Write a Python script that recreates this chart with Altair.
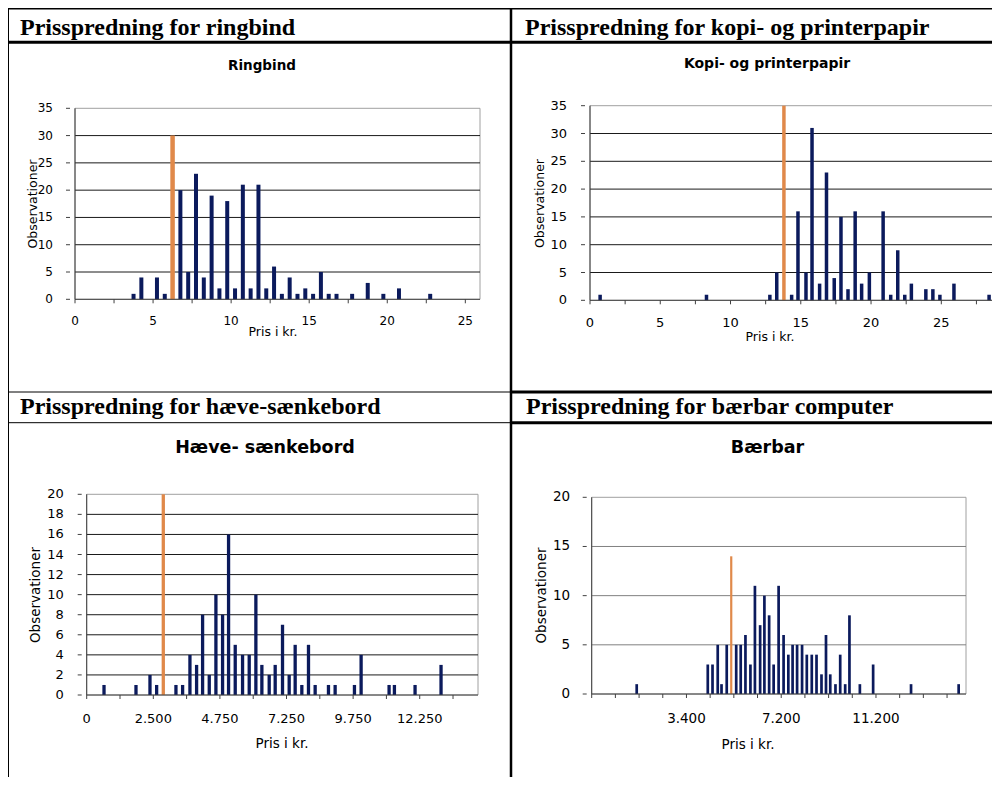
import altair as alt
import pandas as pd

# ---------------- data ----------------
# Panel 1: Ringbind (price in kr., bin centres) and counts
ring_x = [3.75, 4.25, 5.25, 5.75, 6.75, 7.25, 7.75, 8.25, 8.75, 9.25, 9.75, 10.25,
          10.75, 11.25, 11.75, 12.25, 12.75, 13.25, 13.75, 14.25, 14.75, 15.25,
          15.75, 16.25, 16.75, 17.75, 18.75, 19.75, 20.75, 22.75]
ring_n = [1, 4, 4, 1, 20, 5, 23, 4, 19, 2, 18, 2,
          21, 2, 21, 2, 6, 1, 4, 1, 2, 1,
          5, 1, 1, 1, 3, 1, 2, 1]
ring_ref_x = [6.25]
ring_ref_n = [30]

# Panel 2: Kopi- og printerpapir
kopi_x = [0.72, 8.29, 12.8, 13.29, 14.35, 14.8, 15.37, 15.8, 16.34, 16.83, 17.38,
          17.86, 18.36, 18.87, 19.33, 19.88, 20.86, 21.4, 21.9, 22.4, 22.87, 23.9,
          24.4, 24.9, 25.9, 28.4]
kopi_n = [1, 1, 1, 5, 1, 16, 5, 31, 3, 23, 4,
          15, 2, 16, 3, 5, 16, 1, 9, 1, 3, 2,
          2, 1, 3, 1]
kopi_ref_x = [13.8]
kopi_ref_n = [35]

# Panel 3: Hæve- sænkebord (position on the category axis)
haeve_x = [2.6, 7.4, 9.5, 10.5, 13.4, 14.4, 15.5, 16.5, 17.4, 18.4, 19.4, 20.4,
           21.3, 22.3, 23.4, 24.4, 25.4, 26.3, 27.4, 28.3, 29.4, 30.4, 31.3, 32.3,
           33.3, 34.3, 36.3, 37.3, 40.2, 41.2, 45.4, 46.2, 49.3, 53.2]
haeve_n = [1, 1, 2, 1, 1, 1, 4, 3, 8, 2, 10, 8,
           16, 5, 4, 4, 10, 3, 2, 3, 7, 2, 5, 1,
           5, 1, 1, 1, 1, 4, 1, 1, 1, 3]
haeve_ref_x = [11.5]
haeve_ref_n = [20]

# Panel 4: Bærbar (position on the category axis)
baer_x = [9.5, 24.5, 25.5, 26.6, 27.4, 28.5, 30.5, 31.45, 32.45, 33.5, 34.45, 35.55,
          36.45, 37.45, 38.4, 39.45, 40.5, 41.5, 42.4, 43.35, 44.4, 45.4, 46.45,
          47.45, 48.5, 49.45, 50.35, 51.45, 52.45, 53.5, 54.4, 56.6, 59.4, 67.4, 77.45]
baer_n = [1, 3, 3, 5, 1, 5, 5, 5, 6, 3, 11, 7,
          10, 8, 3, 11, 6, 4, 5, 5, 5, 4, 4,
          4, 2, 6, 2, 1, 4, 1, 8, 1, 3, 1, 1]
baer_ref_x = [29.45]
baer_ref_n = [14]

# ticks and tick labels
ring_y_ticks = [0, 5, 10, 15, 20, 25, 30, 35]
ring_x_ticks = [0, 2.5, 5, 7.5, 10, 12.5, 15, 17.5, 20, 22.5, 25]
ring_x_label_at = [0, 5, 10, 15, 20, 25]
ring_x_labels = ["0", "5", "10", "15", "20", "25"]

kopi_y_ticks = [0, 5, 10, 15, 20, 25, 30, 35]
kopi_x_ticks = [0, 2.5, 5, 7.5, 10, 12.5, 15, 17.5, 20, 22.5, 25, 27.5]
kopi_x_label_at = [0, 5, 10, 15, 20, 25]
kopi_x_labels = ["0", "5", "10", "15", "20", "25"]

haeve_y_ticks = [0, 2, 4, 6, 8, 10, 12, 14, 16, 18, 20]
haeve_x_ticks = [0, 5, 10, 15, 20, 25, 30, 35, 40, 45, 50, 55]
haeve_x_label_at = [0, 10, 20, 30, 40, 50]
haeve_x_labels = ["0", "2.500", "4.750", "7.250", "9.750", "12.250"]

baer_y_ticks = [0, 5, 10, 15, 20]
baer_x_ticks = [0, 5, 10, 15, 20, 25, 30, 35, 40, 45, 50, 55, 60, 65, 70, 75]
baer_x_label_at = [20, 40, 60]
baer_x_labels = ["3.400", "7.200", "11.200"]

headers = ["Prisspredning for ringbind", "Prisspredning for kopi- og printerpapir",
           "Prisspredning for hæve-sænkebord", "Prisspredning for bærbar computer"]
chart_titles = ["Ringbind", "Kopi- og printerpapir", "Hæve- sænkebord", "Bærbar"]
x_title = "Pris i kr."
y_title = "Observationer"

# ---------------- layout / style ----------------
W, H = 984, 769
NAVY = "#0B1A5C"
ORANGE = "#E0894A"
SANS = "DejaVu Sans"
SERIF = "Liberation Serif"
TICK = 4


def panel(xs, ns, rx, rn, yticks, xticks, lab_at, labs, c):
    xsc = alt.Scale(domain=c["xdom"], range=c["xrange"], nice=False, zero=False)
    ysc = alt.Scale(domain=c["ydom"], range=c["yrange"], nice=False, zero=False)
    ax_x = c["xrange"][0]
    ax_y = c["yrange"][0]

    grid_df = pd.DataFrame({"v": yticks[1:-1]})
    grid_df["x0"] = c["xdom"][0]
    grid_df["x1"] = c["xdom"][1]
    box_df = pd.DataFrame({"x0": [c["xdom"][0]], "x1": [c["xdom"][1]],
                           "y0": [c["ydom"][0]], "y1": [c["ydom"][1]]})

    X = lambda f: alt.X(f, scale=xsc, axis=None)
    Y = lambda f: alt.Y(f, scale=ysc, axis=None)

    box = alt.Chart(box_df).mark_rect(fill=None, stroke="#A0A0A0", strokeWidth=1).encode(
        x=X("x0:Q"), x2="x1:Q", y=Y("y0:Q"), y2="y1:Q")
    grid = alt.Chart(grid_df).mark_rule(color=c["grid"], strokeWidth=1).encode(
        x=X("x0:Q"), x2="x1:Q", y=Y("v:Q"))

    bars = alt.Chart(pd.DataFrame({"x": xs, "n": ns})).mark_bar(
        color=NAVY, size=c["bw"], orient="vertical").encode(
        x=X("x:Q"), y=alt.Y("n:Q", scale=ysc, axis=None, stack=None))
    ref = alt.Chart(pd.DataFrame({"x": rx, "n": rn})).mark_bar(
        color=ORANGE, size=c["rw"], orient="vertical").encode(
        x=X("x:Q"), y=alt.Y("n:Q", scale=ysc, axis=None, stack=None))

    # axis lines
    xdomain = alt.Chart(box_df).mark_rule(color=c["axis"], strokeWidth=1).encode(
        x=X("x0:Q"), x2="x1:Q", y=Y("y0:Q"))
    ydomain = alt.Chart(box_df).mark_rule(color=c["axis"], strokeWidth=1).encode(
        x=X("x0:Q"), y=Y("y0:Q"), y2="y1:Q")
    # ticks
    xt = alt.Chart(pd.DataFrame({"t": xticks})).mark_rule(color=c["axis"]).encode(
        x=X("t:Q"), y=alt.value(ax_y), y2=alt.value(ax_y + TICK))
    yt = alt.Chart(pd.DataFrame({"t": yticks})).mark_rule(color=c["axis"]).encode(
        y=Y("t:Q"), x=alt.value(ax_x - TICK), x2=alt.value(ax_x))
    # tick labels
    xl = alt.Chart(pd.DataFrame({"t": lab_at, "lab": labs})).mark_text(
        font=SANS, fontSize=c["tfs"], color="black", align="center",
        baseline="middle").encode(
        x=X("t:Q"), y=alt.value(ax_y + c["xdy"]), text="lab:N")
    yl = alt.Chart(pd.DataFrame({"t": yticks})).mark_text(
        font=SANS, fontSize=c["tfs"], color="black", align="right",
        baseline="middle").encode(
        y=Y("t:Q"), x=alt.value(ax_x - TICK - c["ypad"]), text=alt.Text("t:Q", format="d"))
    # axis titles
    xtitle = alt.Chart().mark_text(
        text=x_title, font=SANS, fontSize=c["afs"], color="black", align="center",
        baseline="middle").encode(x=alt.value(c["xt"][0]), y=alt.value(c["xt"][1]))
    ytitle = alt.Chart().mark_text(
        text=y_title, font=SANS, fontSize=c["afs"], color="black", align="center",
        baseline="middle", angle=270).encode(x=alt.value(c["yt"][0]), y=alt.value(c["yt"][1]))
    return alt.layer(box, grid, bars, ref, xdomain, ydomain, xt, yt, xl, yl, xtitle, ytitle)


p1 = panel(ring_x, ring_n, ring_ref_x, ring_ref_n, ring_y_ticks, ring_x_ticks,
           ring_x_label_at, ring_x_labels,
           dict(xdom=[0, 25.94], xrange=[62, 477], ydom=[0, 35], yrange=[291.3, 100.3],
                grid="#1A1A1A", axis="#404040", bw=4, rw=4.5, tfs=12, afs=12.5,
                xdy=21.7, ypad=13, xt=(265, 324), yt=(25, 196)))
p2 = panel(kopi_x, kopi_n, kopi_ref_x, kopi_ref_n, kopi_y_ticks, kopi_x_ticks,
           kopi_x_label_at, kopi_x_labels,
           dict(xdom=[0, 28.75], xrange=[577, 991], ydom=[0, 35], yrange=[292.3, 97.7],
                grid="#1A1A1A", axis="#404040", bw=3.5, rw=3.5, tfs=13, afs=12.5,
                xdy=23, ypad=14, xt=(762, 329), yt=(532, 195.5)))
p3 = panel(haeve_x, haeve_n, haeve_ref_x, haeve_ref_n, haeve_y_ticks, haeve_x_ticks,
           haeve_x_label_at, haeve_x_labels,
           dict(xdom=[0, 58.75], xrange=[73.7, 475], ydom=[0, 20], yrange=[687, 486.3],
                grid="#1A1A1A", axis="#404040", bw=3.3, rw=3.3, tfs=13, afs=13.5,
                xdy=24, ypad=14, xt=(274, 736), yt=(27.5, 587)))
p4 = panel(baer_x, baer_n, baer_ref_x, baer_ref_n, baer_y_ticks, baer_x_ticks,
           baer_x_label_at, baer_x_labels,
           dict(xdom=[0, 79], xrange=[578.7, 963], ydom=[0, 20], yrange=[686, 489.3],
                grid="#808080", axis="#404040", bw=2.7, rw=2.2, tfs=13.5, afs=13.5,
                xdy=25, ypad=12.5, xt=(740, 737), yt=(533.5, 587.5)))


# ---------------- table frame and texts ----------------
def hline(y, x1, x2, w):
    return alt.Chart().mark_rule(color="black", strokeWidth=w).encode(
        x=alt.value(x1), x2=alt.value(x2), y=alt.value(y))


def vline(x, y1, y2, w):
    return alt.Chart().mark_rule(color="black", strokeWidth=w).encode(
        x=alt.value(x), y=alt.value(y1), y2=alt.value(y2))


def text(t, x, y, font, size, align="left", weight="bold"):
    return alt.Chart().mark_text(text=t, font=font, fontSize=size, fontWeight=weight,
                                 align=align, baseline="alphabetic", color="black").encode(
        x=alt.value(x), y=alt.value(y))


frame = [
    hline(0.8, 0, W, 1.5),
    vline(0.5, 0, H, 1),
    hline(34.3, 0, W, 3),
    vline(503, 0, H, 2.5),
    hline(384, 0, 503, 1),
    hline(384, 503, W, 3),
    hline(414.7, 0, 503, 1),
    hline(414.7, 503, W, 3),
]
texts = [
    text(headers[0], 12, 26.5, SERIF, 24),
    text(headers[1], 517, 26.5, SERIF, 24),
    text(headers[2], 12, 406.3, SERIF, 24),
    text(headers[3], 518, 406.3, SERIF, 24),
    text(chart_titles[0], 254, 62, SANS, 13.5, align="center"),
    text(chart_titles[1], 759, 60, SANS, 14, align="center"),
    text(chart_titles[2], 257, 445, SANS, 17.5, align="center"),
    text(chart_titles[3], 759.5, 445, SANS, 17.5, align="center"),
]

chart = alt.layer(p1, p2, p3, p4, *frame, *texts).resolve_scale(
    x="independent", y="independent").properties(
    width=W, height=H, padding=0, autosize=alt.AutoSizeParams(type="none"),
    background="white").configure_view(stroke=None)

chart.save("out.html", embed_options={"renderer": "svg", "actions": False})
